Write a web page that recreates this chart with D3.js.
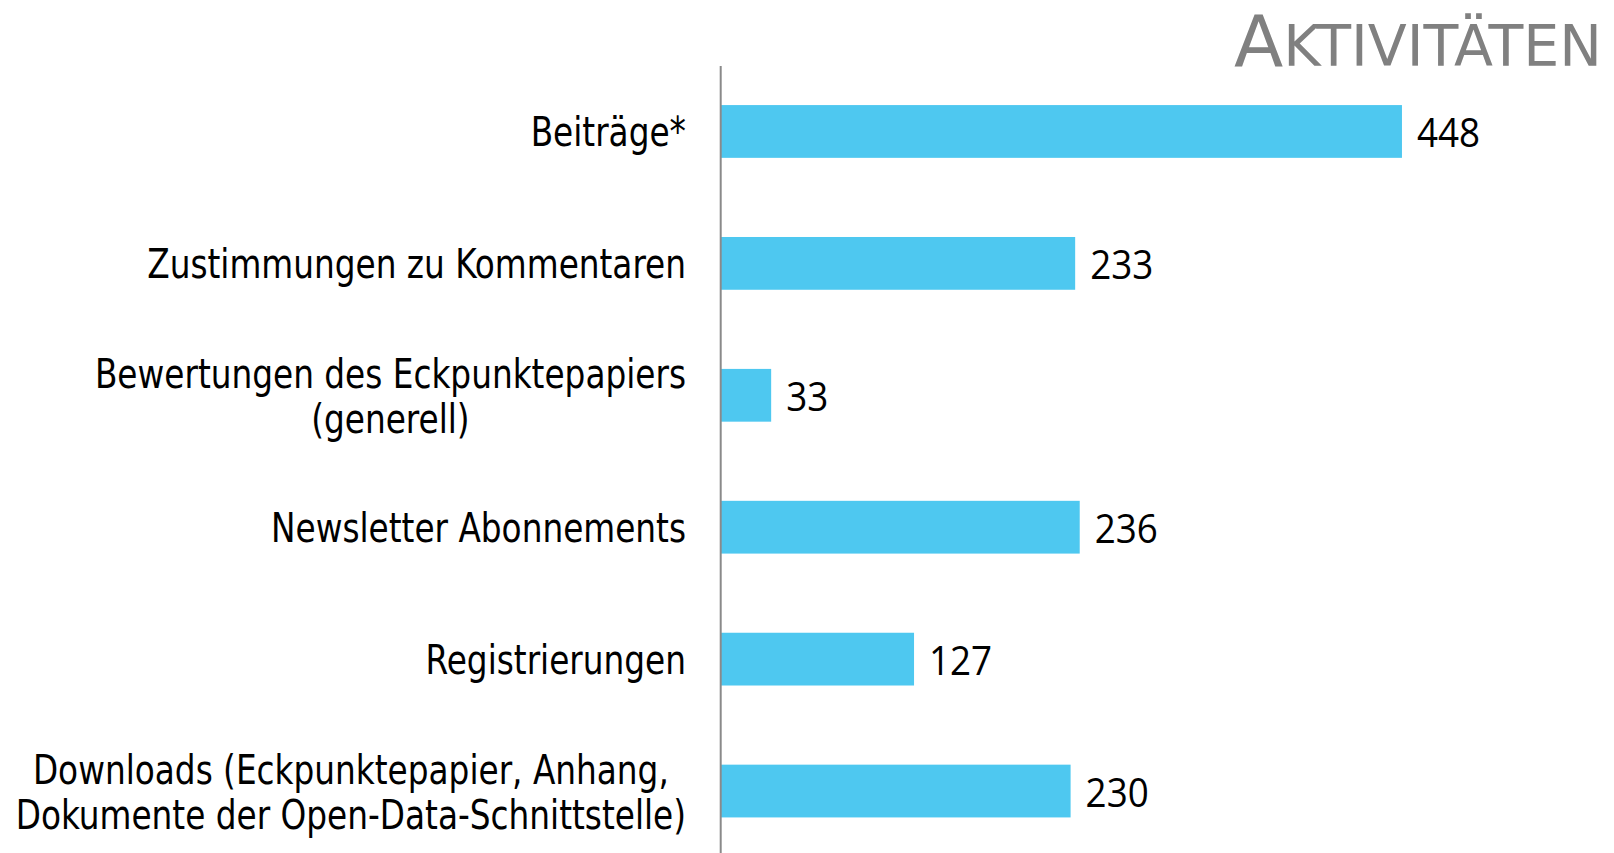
<!DOCTYPE html>
<html>
<head>
<meta charset="utf-8">
<script src="https://cdn.jsdelivr.net/npm/d3@7"></script>
<style>
  html, body { margin: 0; padding: 0; background: #fff; }
  svg { display: block; }
</style>
</head>
<body>
<div id="chart"></div>
<script>
// données du graphique
const categories = [
  ["Beiträge*"],
  ["Zustimmungen zu Kommentaren"],
  ["Bewertungen des Eckpunktepapiers", "(generell)"],
  ["Newsletter Abonnements"],
  ["Registrierungen"],
  ["Downloads (Eckpunktepapier, Anhang,", "Dokumente der Open-Data-Schnittstelle)"]
];
const values = [448, 233, 33, 236, 127, 230];
const titre = "Aktivitäten";

const W = 1614, H = 853;
const x0 = 721;
const labelRight = 686;
const sx = 0.91; // les textes de l'original sont un peu tassés en largeur

const svg = d3.select("#chart").append("svg")
  .attr("width", W).attr("height", H);

const keys = categories.map(c => c.join(" "));

const y = d3.scaleBand()
  .domain(keys)
  .range([65.5, 857])
  .paddingInner(0.6)
  .paddingOuter(0.3);

const x = d3.scaleLinear()
  .domain([0, 500])
  .range([x0, x0 + 760]);

// barres
svg.selectAll("rect.bar")
  .data(values)
  .join("rect")
  .attr("class", "bar")
  .attr("x", x(0))
  .attr("y", (d, i) => y(keys[i]))
  .attr("width", d => x(d) - x(0))
  .attr("height", y.bandwidth())
  .attr("fill", "#4ec8f0");

// ligne d'axe
svg.append("line")
  .attr("x1", x0 - 0.3).attr("x2", x0 - 0.3)
  .attr("y1", 66).attr("y2", H)
  .attr("stroke", "#8a8a8a")
  .attr("stroke-width", 2);

// étiquettes des catégories
const lineH = 45;
categories.forEach((lines, i) => {
  const cy = y(keys[i]) + y.bandwidth() / 2;
  const g = svg.append("g")
    .attr("transform", `translate(${labelRight},0) scale(${sx},1)`);
  const t = g.append("text")
    .attr("font-family", "'DejaVu Sans Condensed', 'DejaVu Sans', sans-serif")
    .attr("font-stretch", "condensed")
    .attr("font-size", 40)
    .attr("fill", "#000");
  const tspans = lines.map((l, k) => t.append("tspan")
    .attr("y", cy + 15 + (k - (lines.length - 1) / 2) * lineH)
    .text(l));
  const widths = tspans.map(s => s.node().getComputedTextLength());
  const wmax = d3.max(widths);
  tspans.forEach(s => s.attr("x", -wmax / 2).attr("text-anchor", "middle"));
});

// valeurs
values.forEach((v, i) => {
  const cy = y(keys[i]) + y.bandwidth() / 2;
  svg.append("text")
    .attr("transform", `translate(${x(v) + 15},${cy + 15.5}) scale(0.92,1)`)
    .attr("font-family", "'Open Sans', 'Noto Sans', sans-serif")
    .attr("font-size", 40)
    .attr("fill", "#000")
    .text(v);
});

// titre en petites capitales
const tt = svg.append("text")
  .attr("x", 1602).attr("y", 66)
  .attr("text-anchor", "end")
  .attr("font-family", "'DejaVu Sans', sans-serif")
  .attr("fill", "#808080");
tt.append("tspan").attr("font-size", 72).text(titre[0].toUpperCase());
tt.append("tspan").attr("font-size", 57).text(titre.slice(1).toUpperCase());
</script>
</body>
</html>
